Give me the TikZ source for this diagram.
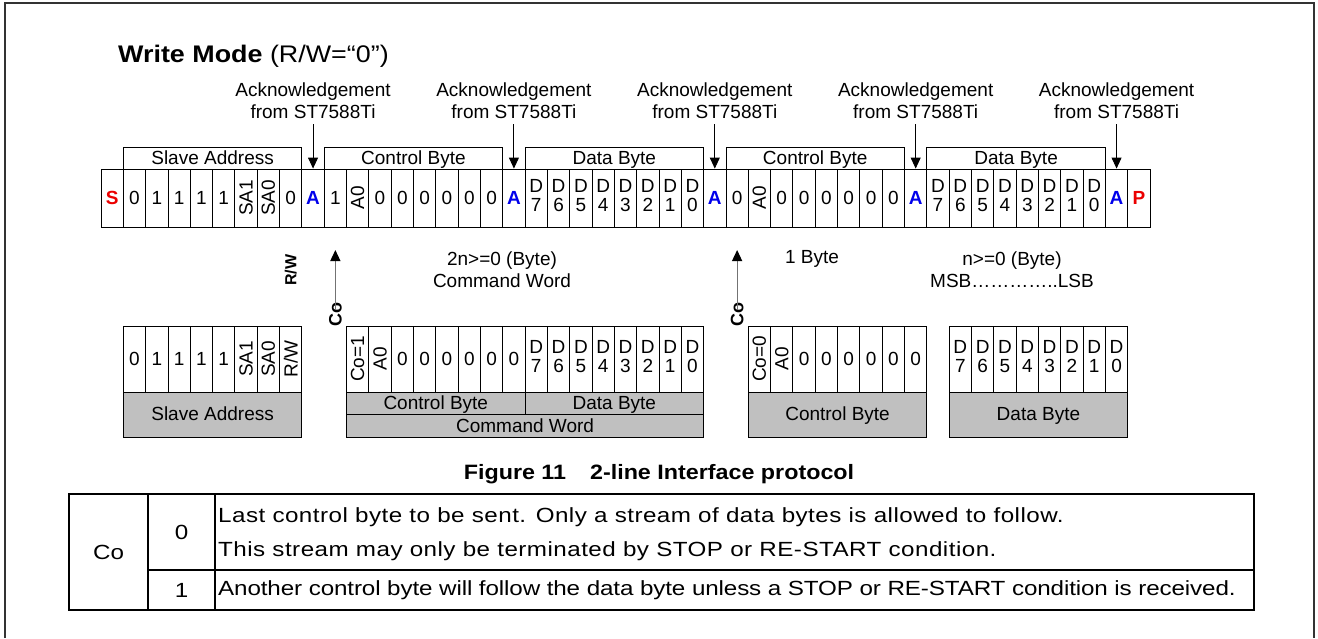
\documentclass[tikz,border=0pt]{standalone}
\usepackage{fontspec}
\setmainfont{Liberation Sans}
\newfontfamily\widefont{Liberation Sans}[FakeStretch=1.18]
\newfontfamily\headfont{Liberation Sans}[FakeStretch=1.12]
\usetikzlibrary{arrows.meta}
\definecolor{bitred}{RGB}{235,0,0}
\definecolor{bitblue}{RGB}{0,0,235}
\definecolor{boxgray}{RGB}{192,192,192}
\newcommand{\vt}[1]{\rotatebox{90}{#1}}
\newcommand{\dbit}[1]{\begin{tabular}{@{}c@{}}D\\[-3pt]#1\end{tabular}}
\newcommand{\ackbit}{\textcolor{bitblue}{\bfseries A}}
\newcommand{\condbit}[1]{\textcolor{bitred}{\bfseries #1}}
\newcommand{\bw}{22.32}

\tikzset{
  txt/.style={font=\fontsize{19}{22}\selectfont, inner sep=0pt},
  tabtxt/.style={font=\widefont\fontsize{20.5}{24}\selectfont, inner sep=0pt},
  bitcell/.style={draw, line width=0.9pt, minimum width=22.32pt, inner sep=0pt,
    font=\fontsize{19}{22}\selectfont},
  grp/.style={draw, line width=0.9pt, minimum height=22pt, inner sep=0pt,
    text height=14pt, text depth=1.5pt, font=\fontsize{19}{22}\selectfont},
  graybox/.style={grp, fill=boxgray},
  ackarrow/.style={line width=0.9pt, -{Triangle[length=11pt,width=10pt]}},
  coarrow/.style={line width=1.2pt, draw=black!55, -{Triangle[length=11pt,width=10pt,color=black]}},
}

\begin{document}
\begin{tikzpicture}[x=1pt,y=-1pt]
  \useasboundingbox (0,0) rectangle (1318,638);
  % frame, open at the bottom
  \draw[line width=1.3pt, black!80] (5,638) -- (5,3) -- (1314,3) -- (1314,638);

  % title
  \node[anchor=base west, inner sep=0pt] (title) at (118,62)
    {\headfont\fontsize{24}{26}\selectfont\textbf{Write Mode} (R/W=“0”)};

  % serial stream
  \foreach \lab [count=\i from 0] in {{\condbit{S}},0,1,1,1,1,{\vt{SA1}},{\vt{SA0}},0,\ackbit,
      1,{\vt{A0}},0,0,0,0,0,0,\ackbit,
      {\dbit7},{\dbit6},{\dbit5},{\dbit4},{\dbit3},{\dbit2},{\dbit1},{\dbit0},\ackbit,
      0,{\vt{A0}},0,0,0,0,0,0,\ackbit,
      {\dbit7},{\dbit6},{\dbit5},{\dbit4},{\dbit3},{\dbit2},{\dbit1},{\dbit0},\ackbit,{\condbit{P}}}
    \node[bitcell, minimum height=58pt] (b\i) at ({101+(\i+0.5)*\bw},198) {\lab};

  % byte brackets
  \foreach \nm/\first/\lab in {g1/1/Slave Address, g2/10/Control Byte, g3/19/Data Byte,
      g4/28/Control Byte, g5/37/Data Byte}
    \node[grp, minimum width=8*\bw pt] (\nm) at ({101+(\first+4)*\bw},158) {\lab};

  % acknowledgements
  \foreach \k/\a in {1/9, 2/18, 3/27, 4/36, 5/45} {
    \node[txt, align=center] (ack\k) at ({101+(\a+0.5)*\bw},101) {Acknowledgement\\from ST7588Ti};
    \draw[ackarrow] (ack\k.south) ++(0,5) coordinate (ackt\k) -- (b\a.north);
  }

  % R/W and Co marks
  \node[txt, font=\fontsize{16}{18}\selectfont\bfseries, rotate=90] (rw) at ({101+8.5*\bw},270) {R/W};
  \node[txt, font=\fontsize{18}{20}\selectfont\bfseries, rotate=90] (co1) at ({101+10.5*\bw},314) {Co};
  \node[txt, font=\fontsize{18}{20}\selectfont\bfseries, rotate=90] (co2) at ({101+28.5*\bw},314) {Co};
  \coordinate (co1t) at ({101+10.5*\bw},250);
  \coordinate (co2t) at ({101+28.5*\bw},250);
  \draw[coarrow] ([yshift=-8pt]co1.east) -- (co1t);
  \draw[coarrow] ([yshift=-8pt]co2.east) -- (co2t);

  \node[txt, align=center] (cmdnote) at (502,270) {2n>=0 (Byte)\\Command Word};
  \node[txt] (onebyte) at (812,259) {1 Byte};
  \node[txt, align=center] (datanote) at (1012,270) {n>=0 (Byte)\\MSB…………..LSB};

  % slave address word
  \foreach \lab [count=\i from 1] in {0,1,1,1,1,{\vt{SA1}},{\vt{SA0}},{\vt{R/W}}}
    \node[bitcell, minimum height=66pt] (s\i) at ({101+(\i+0.5)*\bw},359) {\lab};
  \node[graybox, minimum width=8*\bw pt, minimum height=45pt] (slave) at ({101+5*\bw},414.5) {Slave Address};

  % command word
  \foreach \lab [count=\i from 11] in {{\vt{Co=1}},{\vt{A0}},0,0,0,0,0,0,
      {\dbit7},{\dbit6},{\dbit5},{\dbit4},{\dbit3},{\dbit2},{\dbit1},{\dbit0}}
    \node[bitcell, minimum height=66pt] (c\i) at ({101+(\i+0.5)*\bw},359) {\lab};
  \node[graybox, minimum width=8*\bw pt, minimum height=22.5pt] (cwctrl) at ({101+15*\bw},403.25) {Control Byte};
  \node[graybox, minimum width=8*\bw pt, minimum height=22.5pt] (cwdata) at ({101+23*\bw},403.25) {Data Byte};
  \node[graybox, minimum width=16*\bw pt, minimum height=22.5pt] (cword) at ({101+19*\bw},425.75) {Command Word};

  % last control byte
  \foreach \lab [count=\i from 29] in {{\vt{Co=0}},{\vt{A0}},0,0,0,0,0,0}
    \node[bitcell, minimum height=66pt] (k\i) at ({101+(\i+0.5)*\bw},359) {\lab};
  \node[graybox, minimum width=8*\bw pt, minimum height=45pt] (ctrl) at ({101+33*\bw},414.5) {Control Byte};

  % data byte
  \foreach \lab [count=\i from 38] in {{\dbit7},{\dbit6},{\dbit5},{\dbit4},{\dbit3},{\dbit2},{\dbit1},{\dbit0}}
    \node[bitcell, minimum height=66pt] (d\i) at ({101+(\i+0.5)*\bw},359) {\lab};
  \node[graybox, minimum width=8*\bw pt, minimum height=45pt] (data) at ({101+42*\bw},414.5) {Data Byte};

  % caption
  \node[inner sep=0pt, font=\headfont\fontsize{20.8}{22}\selectfont\bfseries] (caption) at (659,474)
    {Figure 11\hspace{24pt}2-line Interface protocol};

  % Co table
  \draw[line width=1.3pt] (69,494) rectangle (1254,610);
  \draw[line width=1.3pt] (148,494) -- (148,610) (215,494) -- (215,610) (148,570) -- (1254,570);
  \node[tabtxt] (tco) at (108.5,552) {Co};
  \node[tabtxt] (tzero) at (181.5,532) {0};
  \node[tabtxt] (tone) at (181.5,590) {1};
  \node[tabtxt, anchor=west] (tl1) at (218,517)
    {\addfontfeature{LetterSpace=2.3}Last control byte to be sent. Only a stream of data bytes is allowed to follow.};
  \node[tabtxt, anchor=west] (tl2) at (218,551)
    {\addfontfeature{LetterSpace=2.3}This stream may only be terminated by STOP or RE-START condition.};
  \node[tabtxt, anchor=west] (tl3) at (218,590)
    {\addfontfeature{LetterSpace=-0.6}Another control byte will follow the data byte unless a STOP or RE-START condition is received.};
\end{tikzpicture}
\end{document}
